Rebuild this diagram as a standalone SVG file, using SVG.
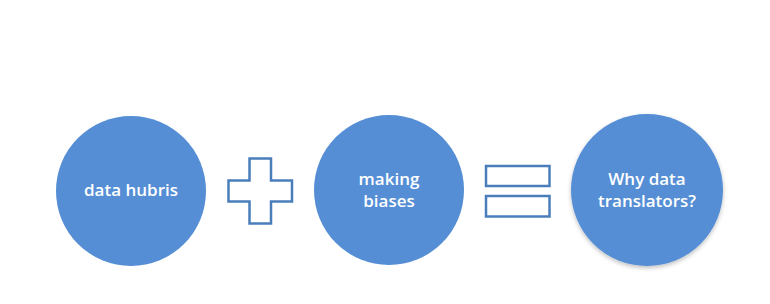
<svg xmlns="http://www.w3.org/2000/svg" width="770" height="304" viewBox="0 0 770 304">
<style>
.c{fill:#558ed5;}
.t{fill:#ffffff;font-family:"Open Sans",sans-serif;font-weight:600;font-size:17px;text-anchor:middle;}
.s{fill:#ffffff;stroke:#4a7ebb;stroke-width:2.5;}
</style>
<defs>
<filter id="sh" x="-20%" y="-20%" width="140%" height="140%">
<feDropShadow dx="0" dy="2" stdDeviation="2" flood-color="#000" flood-opacity="0.25"/>
</filter>
</defs>
<rect width="770" height="304" fill="#ffffff"/>
<g id="data-hubris">
<circle class="c" cx="131" cy="191" r="75"/>
<text class="t" x="131" y="196">data hubris</text>
</g>
<g id="plus">
<path class="s" d="M249.5,158.5 H271 V180.5 H292 V201.5 H271 V223.5 H249.5 V201.5 H228.5 V180.5 H249.5 Z"/>
</g>
<g id="making-biases">
<circle class="c" cx="389" cy="190" r="75"/>
<text class="t" x="389" y="185">making</text>
<text class="t" x="389" y="207">biases</text>
</g>
<g id="equals">
<rect class="s" x="486" y="166" width="63.5" height="20"/>
<rect class="s" x="486" y="196" width="63.5" height="20.5"/>
</g>
<g id="why-data-translators">
<circle class="c" cx="647" cy="190" r="76" filter="url(#sh)"/>
<text class="t" x="647" y="185">Why data</text>
<text class="t" x="647" y="207">translators?</text>
</g>
<g id="connectors"></g>
</svg>
